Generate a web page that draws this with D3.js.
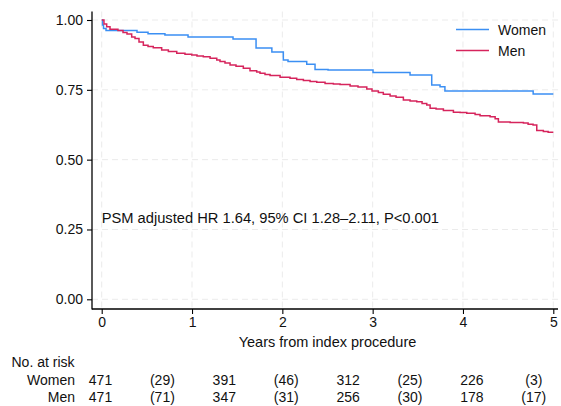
<!DOCTYPE html>
<html>
<head>
<meta charset="utf-8">
<script src="https://cdn.jsdelivr.net/npm/d3@7/dist/d3.min.js"></script>
<style>
  html, body { margin: 0; padding: 0; background: #fff; }
  svg { display: block; font-family: "Liberation Sans", Arial, Helvetica, sans-serif; }
</style>
</head>
<body>
<svg id="chart" width="561" height="406"></svg>
<script>
// ---------- data ----------
const xTicks = [0, 1, 2, 3, 4, 5];
const yTicks = [0, 0.25, 0.5, 0.75, 1];
const yTickLabels = ["0.00", "0.25", "0.50", "0.75", "1.00"];

const womenTime = [0, 0.009, 0.02, 0.048, 0.391, 0.513, 0.70, 0.956, 1.454, 1.709, 1.884, 2.011, 2.063, 2.27, 2.362, 2.506, 3.004, 3.414, 3.654, 3.746, 3.80, 4.777, 5.0];
const womenSurv = [1.0, 0.982, 0.970, 0.962, 0.956, 0.951, 0.946, 0.939, 0.932, 0.900, 0.885, 0.857, 0.851, 0.842, 0.823, 0.821, 0.812, 0.803, 0.767, 0.761, 0.746, 0.735, 0.735];

const menTime = [0, 0.025, 0.055, 0.092, 0.18, 0.236, 0.28, 0.332, 0.369, 0.413, 0.461, 0.513, 0.571, 0.664, 0.738, 0.831, 0.922, 0.997, 1.055, 1.125, 1.2, 1.274, 1.31, 1.365, 1.421, 1.487, 1.568, 1.642, 1.716, 1.753, 1.808, 1.864, 1.975, 2.085, 2.159, 2.233, 2.307, 2.381, 2.473, 2.565, 2.639, 2.75, 2.838, 2.935, 2.993, 3.063, 3.118, 3.193, 3.259, 3.34, 3.414, 3.488, 3.547, 3.599, 3.636, 3.702, 3.783, 3.894, 3.968, 4.042, 4.134, 4.189, 4.3, 4.356, 4.392, 4.522, 4.669, 4.721, 4.776, 4.817, 4.89, 4.943, 5.0];
const menSurv = [1.0, 0.986, 0.976, 0.967, 0.962, 0.955, 0.950, 0.939, 0.934, 0.921, 0.910, 0.905, 0.901, 0.893, 0.887, 0.881, 0.877, 0.875, 0.871, 0.868, 0.863, 0.857, 0.851, 0.846, 0.839, 0.834, 0.827, 0.818, 0.814, 0.809, 0.805, 0.801, 0.795, 0.791, 0.787, 0.783, 0.780, 0.777, 0.773, 0.771, 0.769, 0.764, 0.760, 0.753, 0.746, 0.740, 0.734, 0.728, 0.723, 0.714, 0.710, 0.707, 0.701, 0.696, 0.684, 0.681, 0.676, 0.670, 0.669, 0.666, 0.662, 0.657, 0.654, 0.646, 0.635, 0.633, 0.631, 0.627, 0.624, 0.604, 0.601, 0.598, 0.598];

const seriesNames = ["Women", "Men"];
const seriesColors = ["#3b8ff3", "#d6245c"];

const riskGroups = ["Women", "Men"];
const riskWomen = ["471", "(29)", "391", "(46)", "312", "(25)", "226", "(3)"];
const riskMen = ["471", "(71)", "347", "(31)", "256", "(30)", "178", "(17)"];

const annotation = "PSM adjusted HR 1.64, 95% CI 1.28\u20132.11, P<0.001";
const xTitle = "Years from index procedure";
const riskTitle = "No. at risk";

// ---------- layout ----------
const svg = d3.select("#chart");
const plotLeft = 92, plotRight = 558, plotTop = 11.5, plotBottom = 309;
const x = d3.scaleLinear().domain([0, 5]).range([101.7, 553.3]);
const y = d3.scaleLinear().domain([0, 1]).range([299.3, 20]);
const fs = 14;

// grid
const grid = svg.append("g").attr("stroke", "#ebebeb").attr("stroke-width", 1).attr("stroke-dasharray", "6,4");
grid.selectAll("line.gx").data(xTicks).enter().append("line")
  .attr("x1", d => x(d)).attr("x2", d => x(d))
  .attr("y1", plotTop).attr("y2", plotBottom);
grid.selectAll("line.gy").data(yTicks).enter().append("line")
  .attr("x1", plotLeft).attr("x2", plotRight)
  .attr("y1", d => y(d)).attr("y2", d => y(d));

// y axis
const yAxis = d3.axisLeft(y).tickValues(yTicks).tickFormat((d, i) => yTickLabels[i]).tickSize(5).tickPadding(4);
const gy = svg.append("g").attr("transform", `translate(${plotLeft},0)`).call(yAxis);
gy.select(".domain").remove();
gy.append("line").attr("x1", 0).attr("x2", 0).attr("y1", plotTop).attr("y2", plotBottom + 0.5)
  .attr("stroke", "#000").attr("stroke-width", 1.3);
gy.selectAll(".tick line").attr("stroke", "#000").attr("stroke-width", 1.1);
gy.selectAll(".tick text").attr("font-size", fs).attr("fill", "#111").attr("font-family", "Liberation Sans, Arial, sans-serif");

// x axis
const xAxis = d3.axisBottom(x).tickValues(xTicks).tickFormat(d3.format("d")).tickSize(5).tickPadding(3);
const gx = svg.append("g").attr("transform", `translate(0,${plotBottom})`).call(xAxis);
gx.select(".domain").remove();
gx.append("line").attr("x1", plotLeft).attr("x2", plotRight).attr("y1", 0).attr("y2", 0)
  .attr("stroke", "#000").attr("stroke-width", 1.3);
gx.selectAll(".tick line").attr("stroke", "#000").attr("stroke-width", 1.1);
gx.selectAll(".tick text").attr("font-size", fs).attr("fill", "#111").attr("font-family", "Liberation Sans, Arial, sans-serif");

// curves
const line = d3.line().x(d => x(d[0])).y(d => y(d[1])).curve(d3.curveStepAfter);
const womenData = womenTime.map((t, i) => [t, womenSurv[i]]);
const menData = menTime.map((t, i) => [t, menSurv[i]]);
[womenData, menData].forEach((data, i) => {
  svg.append("path").datum(data).attr("d", line)
    .attr("fill", "none").attr("stroke", seriesColors[i]).attr("stroke-width", 1.5);
});

// legend
const legend = svg.append("g");
seriesNames.forEach((name, i) => {
  const ly = 29.5 + i * 21;
  legend.append("line").attr("x1", 456).attr("x2", 489).attr("y1", ly).attr("y2", ly)
    .attr("stroke", seriesColors[i]).attr("stroke-width", 1.5);
  legend.append("text").attr("x", 498).attr("y", ly + 5.5).attr("font-size", fs).attr("fill", "#111").text(name);
});

// annotation
svg.append("text").attr("x", 101.7).attr("y", 222.5).attr("font-size", 14.7).attr("fill", "#111").text(annotation);

// x title
svg.append("text").attr("x", (x(0) + x(5)) / 2).attr("y", 347).attr("text-anchor", "middle")
  .attr("font-size", 14.5).attr("fill", "#111").text(xTitle);

// risk table
svg.append("text").attr("x", 11.5).attr("y", 366.5).attr("font-size", fs).attr("fill", "#111").text(riskTitle);
const col = d3.scaleLinear().domain([0, 7]).range([100.5, 533.8]);
const rowY = [385, 401.5];
[riskWomen, riskMen].forEach((row, r) => {
  svg.append("text").attr("x", 75).attr("y", rowY[r]).attr("text-anchor", "end")
    .attr("font-size", fs).attr("fill", "#111").text(riskGroups[r]);
  svg.append("g").selectAll("text").data(row).enter().append("text")
    .attr("x", (d, i) => col(i)).attr("y", rowY[r]).attr("text-anchor", "middle")
    .attr("font-size", fs).attr("fill", "#111").text(d => d);
});
</script>
</body>
</html>
